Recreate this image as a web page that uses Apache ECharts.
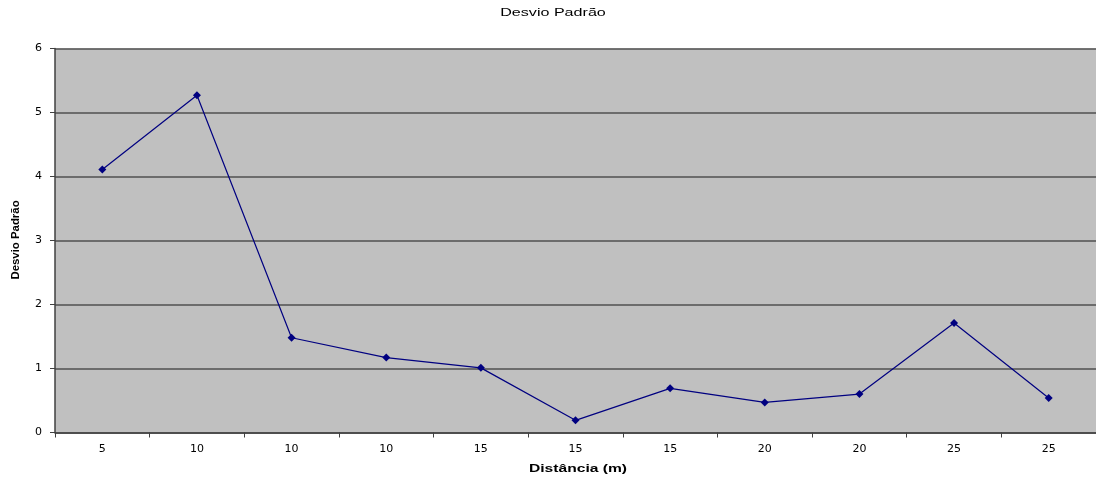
<!DOCTYPE html>
<html>
<head>
<meta charset="utf-8">
<script src="https://cdn.jsdelivr.net/npm/echarts@6/dist/echarts.min.js"></script>
<style>
  html, body { margin: 0; padding: 0; background: #ffffff; }
  #chart { width: 1096px; height: 480px; }
</style>
</head>
<body>
<div id="chart"></div>
<script>
// Distances (m) along the x axis
const distancias = ['5', '10', '10', '10', '15', '15', '15', '20', '20', '25', '25'];
// Standard deviation for each measurement
const desvioPadrao = [4.11, 5.27, 1.48, 1.17, 1.01, 0.19, 0.69, 0.47, 0.60, 1.71, 0.54];
// Value axis range
const yMin = 0, yMax = 6, yStep = 1;

const tituloTexto = 'Desvio Padrão';
const eixoXTexto = 'Distância (m)';
const eixoYTexto = 'Desvio Padrão';

const chart = echarts.init(document.getElementById('chart'), null, { renderer: 'canvas' });
const sans = '"Liberation Sans", Arial, sans-serif';
const wide = '"DejaVu Sans", Verdana, sans-serif';

// Wide, stretched text used for the title and axis names
function stretchedText(text, x, y, size, weight, scaleX, rotation) {
  return {
    type: 'text',
    x: x, y: y,
    rotation: rotation || 0,
    scaleX: scaleX,
    silent: true,
    style: {
      text: text,
      fontFamily: sans,
      fontSize: size,
      fontWeight: weight,
      fill: '#000',
      align: 'center',
      verticalAlign: 'middle',
      textAlign: 'center',
      textVerticalAlign: 'middle'
    }
  };
}

chart.setOption({
  animation: false,
  backgroundColor: '#ffffff',
  grid: {
    left: 55, right: 0, top: 48.5, bottom: 47.5,
    show: true, backgroundColor: '#c0c0c0', borderWidth: 0
  },
  graphic: [
    stretchedText(tituloTexto, 553, 13, 11.5, 'normal', 1.4, 0),
    stretchedText(eixoXTexto, 578, 469, 11, 'bold', 1.42, 0),
    stretchedText(eixoYTexto, 16, 240, 10, 'bold', 1.14, Math.PI / 2)
  ],
  xAxis: {
    type: 'category',
    data: distancias,
    boundaryGap: true,
    axisLine: { lineStyle: { color: '#404040', width: 1.5 } },
    axisTick: { show: true, length: 5, inside: false, lineStyle: { color: '#404040' } },
    axisLabel: { fontFamily: wide, fontSize: 11, color: '#000', margin: 11 },
    splitLine: { show: false }
  },
  yAxis: {
    type: 'value',
    min: yMin, max: yMax, interval: yStep,
    axisLine: { show: true, lineStyle: { color: '#404040', width: 1.5 } },
    axisTick: { show: true, length: 5, lineStyle: { color: '#404040' } },
    axisLabel: { fontFamily: wide, fontSize: 11, color: '#000', margin: 13 },
    splitLine: { show: true, lineStyle: { color: '#505050', width: 1.5 } }
  },
  series: [{
    type: 'line',
    data: desvioPadrao,
    symbol: 'diamond',
    symbolSize: 8,
    lineStyle: { color: '#000080', width: 1.2 },
    itemStyle: { color: '#000080' }
  }]
});
</script>
</body>
</html>
